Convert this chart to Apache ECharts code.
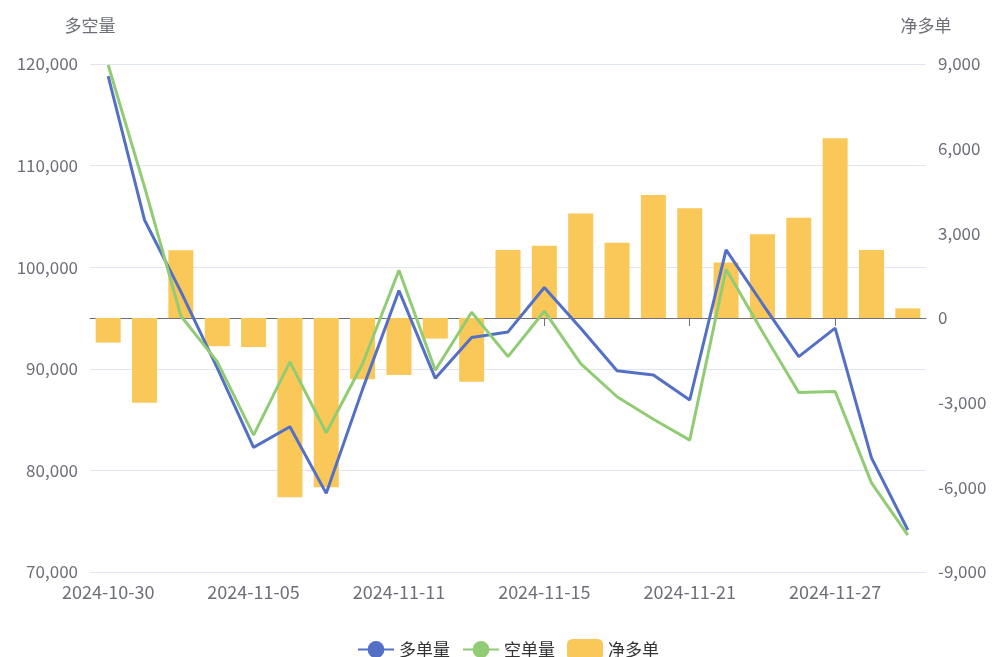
<!DOCTYPE html>
<html>
<head>
<meta charset="utf-8">
<script src="https://cdn.jsdelivr.net/npm/echarts@6/dist/echarts.min.js"></script>
<style>
  html, body { margin: 0; padding: 0; background: #fff; }
  #main { width: 995px; height: 657px; }
</style>
</head>
<body>
<div id="main"></div>
<script>
// 日期
var dates = [
  '2024-10-30', '2024-10-31', '2024-11-01', '2024-11-04', '2024-11-05',
  '2024-11-06', '2024-11-07', '2024-11-08', '2024-11-11', '2024-11-12',
  '2024-11-13', '2024-11-14', '2024-11-15', '2024-11-18', '2024-11-19',
  '2024-11-20', '2024-11-21', '2024-11-22', '2024-11-25', '2024-11-26',
  '2024-11-27', '2024-11-28', '2024-11-29'
];
// 多单量
var longVol = [
  118800, 104650, 97600, 90100, 82270, 84300, 77740, 88000, 97700, 89060,
  93080, 93630, 98000, 94000, 89800, 89400, 86930, 101700, 96400, 91200,
  94000, 81230, 74130
];
// 空单量
var shortVol = [
  119900, 107900, 95200, 90700, 83480, 90680, 83710, 90500, 99700, 89860,
  95570, 91200, 95670, 90500, 87250, 85040, 82980, 99800, 93640, 87660,
  87760, 78770, 73640
];
// 净多单
var netLong = [
  -870, -3000, 2400, -1000, -1030, -6350, -6000, -2170, -2020, -730,
  -2260, 2410, 2560, 3700, 2670, 4360, 3890, 1970, 2970, 3550,
  6370, 2410, 340
];

var myChart = echarts.init(document.getElementById('main'));
var labelColor = '#6E7079';
var font = 'Noto Sans CJK SC';

var option = {
  color: ['#5470c6', '#91cc75', '#fac858'],
  textStyle: { fontFamily: font },
  grid: { left: 90, right: 69, top: 64, bottom: 85 },
  legend: {
    left: 352,
    top: 634,
    itemWidth: 36,
    itemHeight: 21,
    itemGap: 12,
    textStyle: { fontSize: 17, color: '#333', fontFamily: font },
    data: ['多单量', '空单量', '净多单']
  },
  xAxis: [
    {
      type: 'category',
      data: dates,
      position: 'bottom',
      axisLine: { show: false, onZero: false },
      axisTick: { show: false },
      axisLabel: { interval: 3, color: labelColor, fontSize: 18, margin: 11 }
    },
    {
      // 0 轴线
      type: 'category',
      data: dates,
      position: 'bottom',
      axisLine: { show: true, onZero: true, onZeroAxisIndex: 1, lineStyle: { color: '#6E7079' } },
      axisTick: { show: true, interval: 3, alignWithLabel: true, length: 8 },
      axisLabel: { show: false },
      splitLine: { show: false }
    }
  ],
  yAxis: [
    {
      type: 'value',
      name: '多空量',
      nameGap: 30,
      nameTextStyle: { color: labelColor, fontSize: 17 },
      min: 70000,
      max: 120000,
      interval: 10000,
      axisLabel: { color: labelColor, fontSize: 17, margin: 12 },
      splitLine: { lineStyle: { color: '#E0E6F1' } }
    },
    {
      type: 'value',
      name: '净多单',
      nameGap: 30,
      nameTextStyle: { color: labelColor, fontSize: 17 },
      min: -9000,
      max: 9000,
      interval: 3000,
      axisLabel: { color: labelColor, fontSize: 17, margin: 12 },
      splitLine: { show: false }
    }
  ],
  series: [
    {
      name: '多单量',
      type: 'line',
      yAxisIndex: 0,
      data: longVol,
      symbol: 'circle',
      showSymbol: false,
      lineStyle: { width: 3 },
      z: 3
    },
    {
      name: '空单量',
      type: 'line',
      yAxisIndex: 0,
      data: shortVol,
      symbol: 'circle',
      showSymbol: false,
      lineStyle: { width: 3 },
      z: 3
    },
    {
      name: '净多单',
      type: 'bar',
      yAxisIndex: 1,
      data: netLong,
      barWidth: 25
    }
  ]
};

myChart.setOption(option);
</script>
</body>
</html>
